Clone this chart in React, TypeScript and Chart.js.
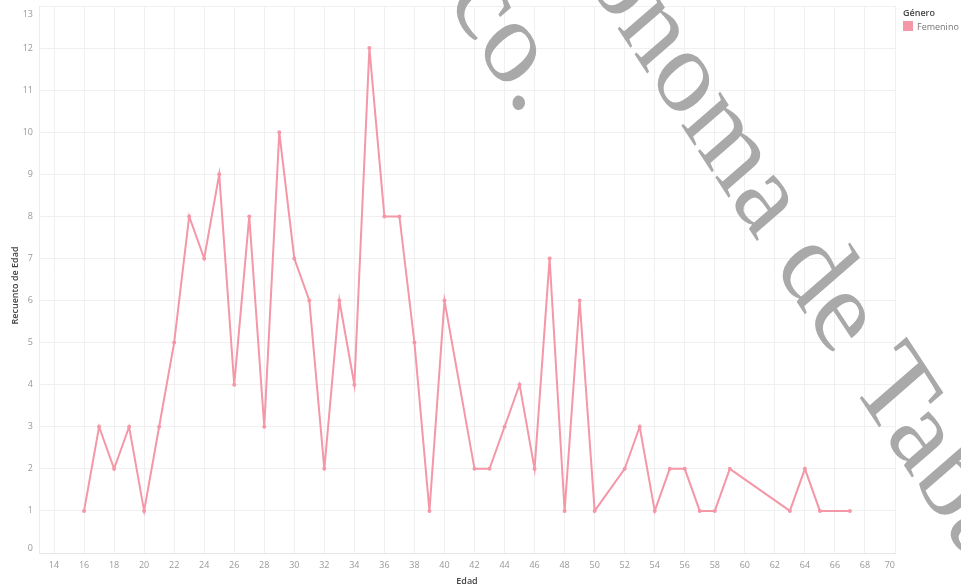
import React, { useEffect, useRef } from "react";
import { Chart, registerables } from "chart.js";

Chart.register(...registerables);

const AGES = [16, 17, 18, 19, 20, 21, 22, 23, 24, 25, 26, 27, 28, 29, 30, 31, 32, 33, 34, 35, 36, 37, 38, 39, 40, 42, 43, 44, 45, 46, 47, 48, 49, 50, 52, 53, 54, 55, 56, 57, 58, 59, 63, 64, 65, 67];
const COUNTS = [1, 3, 2, 3, 1, 3, 5, 8, 7, 9, 4, 8, 3, 10, 7, 6, 2, 6, 4, 12, 8, 8, 5, 1, 6, 2, 2, 3, 4, 2, 7, 1, 6, 1, 2, 3, 1, 2, 2, 1, 1, 2, 1, 2, 1, 1];
const X_TICKS = [14, 16, 18, 20, 22, 24, 26, 28, 30, 32, 34, 36, 38, 40, 42, 44, 46, 48, 50, 52, 54, 56, 58, 60, 62, 64, 66, 68, 70];
const Y_TICKS = [0, 1, 2, 3, 4, 5, 6, 7, 8, 9, 10, 11, 12, 13];
const SERIES_NAME = "Femenino";
const LEGEND_TITLE = "Género";
const X_TITLE = "Edad";
const Y_TITLE = "Recuento de Edad";
const WM_LINE1 = "Universidad Juárez Autónoma de Tabasco";
const WM_LINE2 = "México.";

const PINK = "#f497a7";
const GRID = "#f0f0f0";

const overlay = {
  id: "overlay",
  afterDraw(chart: any) {
    const ctx = chart.ctx as CanvasRenderingContext2D;
    const { left, right, top, bottom } = chart.chartArea;
    const xs = chart.scales.x;
    const ys = chart.scales.y;
    ctx.save();
    // tick labels
    ctx.font = '9px "Open Sans"';
    ctx.fillStyle = "#999999";
    ctx.textBaseline = "middle";
    ctx.textAlign = "center";
    X_TICKS.forEach((v) => {
      const s = String(v);
      const w = ctx.measureText(s).width;
      let px = xs.getPixelForValue(v);
      px = Math.min(px, right - w / 2);
      ctx.fillText(s, px, bottom + 12);
    });
    ctx.textAlign = "right";
    Y_TICKS.forEach((v) => {
      let py = ys.getPixelForValue(v);
      py = Math.max(top + 8, Math.min(bottom - 5, py));
      ctx.fillText(String(v), left - 6, py);
    });
    // axis titles
    ctx.font = '600 9px "Open Sans"';
    ctx.fillStyle = "#444444";
    ctx.textAlign = "center";
    ctx.fillText(X_TITLE, (left + right) / 2, bottom + 28);
    ctx.save();
    ctx.translate(15, (top + bottom) / 2 + 6);
    ctx.rotate(-Math.PI / 2);
    ctx.fillText(Y_TITLE, 0, 0);
    ctx.restore();
    // legend
    ctx.textAlign = "left";
    ctx.fillStyle = "#444444";
    ctx.fillText(LEGEND_TITLE, 903, 13);
    ctx.fillStyle = PINK;
    ctx.fillRect(903, 21, 10, 10);
    ctx.font = '9px "Open Sans"';
    ctx.fillStyle = "#777777";
    ctx.fillText(SERIES_NAME, 917, 27);
    // watermark
    const ang = (53 * Math.PI) / 180;
    const stretch = 1.15;
    ctx.font = '106px "Liberation Serif"';
    ctx.fillStyle = "#a9a9a9";
    ctx.textBaseline = "alphabetic";
    ctx.textAlign = "left";
    const pre1 = ctx.measureText("Universidad Juárez Autónoma de ").width;
    ctx.save();
    ctx.translate(850, 383);
    ctx.scale(1, stretch);
    ctx.rotate(ang);
    ctx.fillText(WM_LINE1, -pre1, 0);
    ctx.restore();
    const pre2 = ctx.measureText("México").width;
    ctx.save();
    ctx.translate(507, 94);
    ctx.scale(1, stretch);
    ctx.rotate(ang);
    ctx.fillText(WM_LINE2, -pre2, 0);
    ctx.restore();
    ctx.restore();
  },
};

export default function App() {
  const ref = useRef<HTMLCanvasElement | null>(null);
  useEffect(() => {
    if (!ref.current) return;
    const chart = new Chart(ref.current, {
      type: "line",
      data: {
        datasets: [
          {
            label: SERIES_NAME,
            data: AGES.map((a, i) => ({ x: a, y: COUNTS[i] })),
            borderColor: PINK,
            backgroundColor: PINK,
            borderWidth: 2,
            pointRadius: 2,
            pointBorderWidth: 0,
            pointBackgroundColor: PINK,
            tension: 0,
          },
        ],
      },
      options: {
        animation: false,
        responsive: false,
        maintainAspectRatio: false,
        events: [],
        layout: { padding: { left: 0, right: 66, top: 6, bottom: 0 } },
        plugins: { legend: { display: false }, tooltip: { enabled: false } },
        scales: {
          x: {
            type: "linear",
            min: 13,
            max: 70,
            afterBuildTicks: (s: any) => {
              s.ticks = X_TICKS.map((v) => ({ value: v }));
            },
            afterFit: (s: any) => {
              s.height = 32;
            },
            ticks: { display: false },
            grid: { color: GRID, drawTicks: false, lineWidth: 1 },
            border: { display: true, color: "#e6e6e6" },
          },
          y: {
            type: "linear",
            min: 0,
            max: 13,
            afterBuildTicks: (s: any) => {
              s.ticks = Y_TICKS.map((v) => ({ value: v }));
            },
            afterFit: (s: any) => {
              s.width = 39;
            },
            ticks: { display: false },
            grid: { color: GRID, drawTicks: false, lineWidth: 1 },
            border: { display: true, color: "#ececec" },
          },
        },
      },
      plugins: [overlay],
    });
    return () => chart.destroy();
  }, []);
  return (
    <div style={{ position: "absolute", left: 0, top: 0, width: 961, height: 585, background: "#ffffff" }}>
      <canvas ref={ref} width={961} height={585} />
    </div>
  );
}
